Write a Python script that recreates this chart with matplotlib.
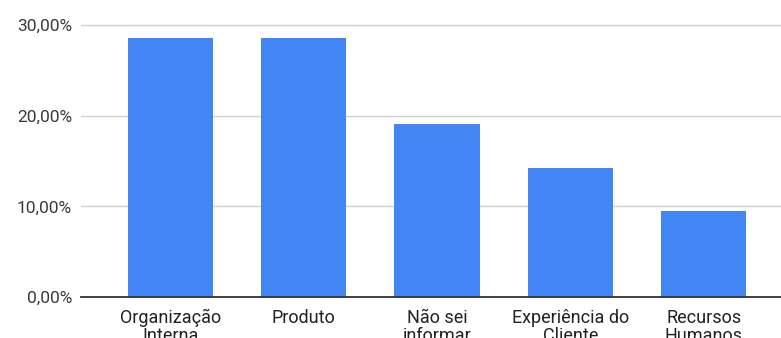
import matplotlib.pyplot as plt
from matplotlib.ticker import FuncFormatter

# respostas por área (em %)
categorias = ["Organização\nInterna", "Produto", "Não sei\ninformar",
              "Experiência do\nCliente", "Recursos\nHumanos"]
percentuais = [28.57, 28.57, 19.05, 14.29, 9.52]
yticks = [0, 10, 20, 30]

plt.rcParams["font.family"] = ["Roboto", "DejaVu Sans"]

fig = plt.figure(figsize=(7.81, 3.38), dpi=100)
ax = fig.add_axes([0.1037, 0.1213, 0.8963, 0.8177])

pos = list(range(len(categorias)))
ax.bar(pos, percentuais, width=0.64, color="#4285F4", zorder=3)

ax.set_xlim(-0.67, 4.58)
ax.set_ylim(0, 30.5)
ax.set_yticks(yticks)
ax.yaxis.set_major_formatter(FuncFormatter(lambda v, _: f"{v:.2f}%".replace(".", ",")))
ax.grid(axis="y", color="#d0d0d0", linewidth=1.0, zorder=0)
ax.set_xticks(pos)
ax.set_xticklabels(categorias, linespacing=0.98)

ax.tick_params(axis="y", length=0, labelsize=12.5, pad=6.5, labelcolor="#3a3a3a")
ax.tick_params(axis="x", length=0, labelsize=13, pad=8.5, labelcolor="#222222")

for s in ["top", "right", "left"]:
    ax.spines[s].set_visible(False)
ax.spines["bottom"].set_color("#333333")
ax.spines["bottom"].set_linewidth(1.3)
ax.spines["bottom"].set_zorder(4)

fig.savefig("out.png", dpi=100)
